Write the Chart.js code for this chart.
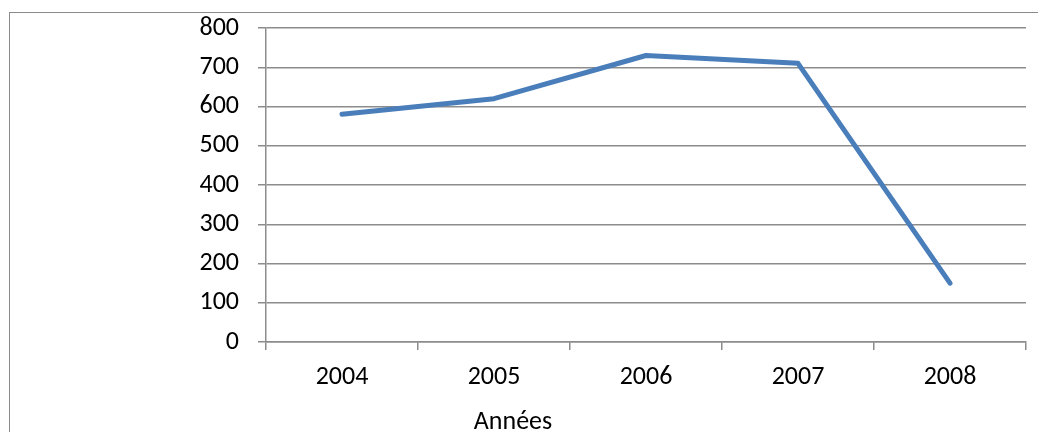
<!DOCTYPE html>
<html>
<head>
<meta charset="utf-8">
<script src="https://cdn.jsdelivr.net/npm/chart.js@4/dist/chart.umd.min.js"></script>
<style>
  html, body { margin: 0; padding: 0; background: #ffffff; overflow: hidden; }
  #wrap { position: relative; width: 1038px; height: 432px; }
  #frame { position: absolute; left: 9px; top: 12px; width: 1100px; height: 500px;
           border-left: 1px solid #8a8a8a; border-top: 1px solid #8a8a8a; pointer-events: none; }
  canvas { position: absolute; left: 0; top: 0; }
</style>
</head>
<body>
<div id="wrap">
  <div id="frame"></div>
  <canvas id="c" width="1038" height="432"></canvas>
</div>
<script>
// Yearly values
const years = ['2004', '2005', '2006', '2007', '2008'];
const values = [580, 620, 730, 710, 150];
const yTicks = [0, 100, 200, 300, 400, 500, 600, 700, 800];
const axisTitle = 'Années';

const FONT = 'Carlito, Lato, "Liberation Sans", sans-serif';
const GRID = '#8c8c8c';

new Chart(document.getElementById('c'), {
  type: 'line',
  data: {
    labels: years,
    datasets: [{
      data: values,
      borderColor: '#4a7ebb',
      borderWidth: 5,
      borderCapStyle: 'round',
      borderJoinStyle: 'round',
      pointRadius: 0,
      tension: 0,
      fill: false
    }]
  },
  options: {
    responsive: false,
    animation: false,
    devicePixelRatio: 1,
    layout: { padding: { top: 28, right: 12, left: 0, bottom: 0 } },
    plugins: {
      legend: { display: false },
      tooltip: { enabled: false },
      title: {
        display: true,
        text: axisTitle,
        position: 'bottom',
        align: 'center',
        color: '#000000',
        font: { family: FONT, size: 26, weight: 'normal', lineHeight: 0.7 },
        padding: { top: 0, bottom: 0 }
      }
    },
    scales: {
      x: {
        type: 'category',
        offset: true,
        grid: {
          offset: true,
          drawOnChartArea: false,
          drawTicks: true,
          tickLength: 8,
          color: GRID,
          lineWidth: 1.5
        },
        border: { display: true, color: GRID, width: 1.5 },
        ticks: {
          color: '#000000',
          font: { family: FONT, size: 26 },
          padding: 12,
          maxRotation: 0
        },
        afterFit: (s) => { s.height = 71.8; s.paddingLeft = 0; s.paddingRight = 0; }
      },
      y: {
        min: 0,
        max: 800,
        afterBuildTicks: (s) => { s.ticks = yTicks.map(v => ({ value: v })); },
        grid: {
          drawOnChartArea: true,
          drawTicks: true,
          tickLength: 8,
          color: GRID,
          lineWidth: 1.5
        },
        border: { display: true, color: GRID, width: 1.5 },
        ticks: {
          color: '#000000',
          font: { family: FONT, size: 26 },
          padding: 19
        },
        afterFit: (s) => { s.width = 266; s.paddingTop = 0; s.paddingBottom = 0; }
      }
    }
  }
});
</script>
</body>
</html>
